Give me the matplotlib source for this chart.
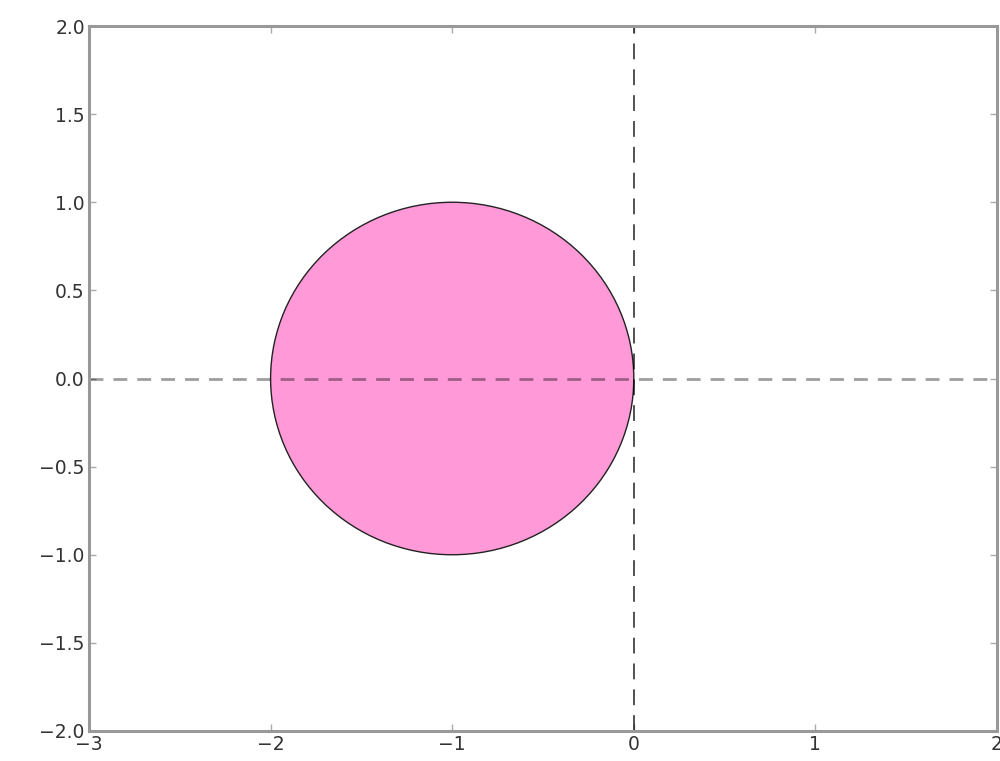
import matplotlib
matplotlib.use("Agg")
from matplotlib import pyplot as plt
from matplotlib.patches import Circle

# data
center = (-1.0, 0.0)
radius = 1.0
xlim = (-3, 2)
ylim = (-2.0, 2.0)
xticks = [-3, -2, -1, 0, 1, 2]
yticks = [-2.0, -1.5, -1.0, -0.5, 0.0, 0.5, 1.0, 1.5, 2.0]
hline_y = 0.0
vline_x = 0.0

fig = plt.figure(figsize=(10, 7.61), dpi=100)
ax = fig.add_axes([0.089, (761 - 731) / 761, 0.908, (731 - 26) / 761])

circ = Circle(center, radius, facecolor='#ff99d8', edgecolor='#222222', linewidth=1.0)
ax.add_patch(circ)

ax.axhline(hline_y, color='black', alpha=0.38, linestyle='--', linewidth=2.0, dashes=(5, 3.6))
ax.axvline(vline_x, color='black', alpha=0.8, linestyle='--', linewidth=1.2, dashes=(9.5, 6))

ax.set_xlim(*xlim)
ax.set_ylim(*ylim)
ax.set_xticks(xticks)
ax.set_yticks(yticks)

for s in ax.spines.values():
    s.set_color('#999999')
    s.set_linewidth(2.2)

ax.tick_params(direction='in', length=5, width=1, color='#aaaaaa',
               top=True, right=True, labelsize=13.5, labelcolor='#333333', pad=3)

fig.savefig('out.png', dpi=100)
